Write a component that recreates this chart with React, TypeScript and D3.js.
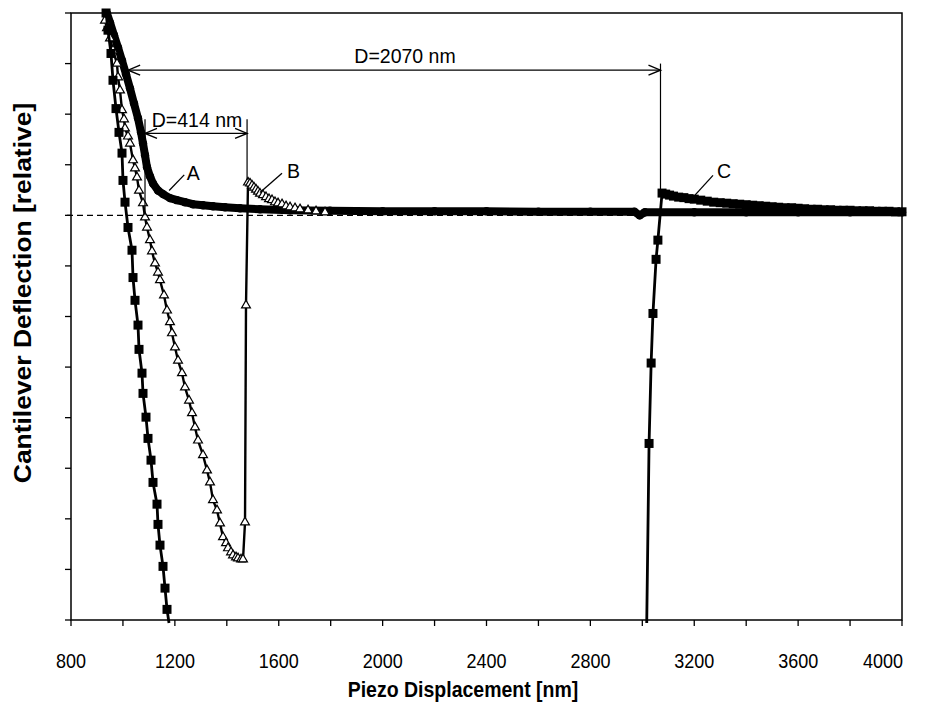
import React from "react";
import * as d3 from "d3";

// ---------- data ----------
const xTicks = [800, 1000, 1200, 1400, 1600, 1800, 2000, 2200, 2400, 2600, 2800, 3000, 3200, 3400, 3600, 3800, 4000];
const xTickLabels = [800, 1200, 1600, 2000, 2400, 2800, 3200, 3600, 4000];
const yTicks = [-8, -7, -6, -5, -4, -3, -2, -1, 0, 1, 2, 3, 4];

// Curve A (dense filled circles)
const curveA: [number, number][] = [
  [938.6, 3.99], [950.2, 3.81], [965.6, 3.56], [981, 3.32], [996.4, 3.06], [1011.8, 2.79],
  [1027.2, 2.51], [1042.6, 2.21], [1058, 1.92], [1069.6, 1.64], [1077.3, 1.42], [1085, 1.19],
  [1092.7, 0.95], [1104.2, 0.77], [1115.8, 0.63], [1135, 0.49], [1154.3, 0.42], [1181.2, 0.34],
  [1208.2, 0.3], [1239, 0.26], [1269.8, 0.22], [1308.3, 0.2], [1346.8, 0.18], [1393, 0.16],
  [1450.8, 0.14], [1527.8, 0.12], [1643.3, 0.1], [1797.4, 0.09], [2000, 0.08], [2200, 0.08],
  [2400, 0.08], [2600, 0.07], [2800, 0.07], [2970, 0.07], [2990, 0.0], [3010, 0.06],
  [3200, 0.06], [3400, 0.06], [3600, 0.06], [3800, 0.06], [4000, 0.06],
];

// Curve B (open triangles)
const curveB: [number, number][] = [
  [930.9, 3.85], [938.6, 3.7], [950.2, 3.5], [961.7, 3.26], [977.1, 3.0], [981.0, 2.73],
  [988.7, 2.47], [996.4, 2.08], [1004.1, 1.9], [1007.9, 1.72], [1019.5, 1.56], [1027.2, 1.42],
  [1038.8, 1.09], [1046.5, 0.93], [1054.2, 0.75], [1061.9, 0.49], [1077.3, 0.24], [1085.0, -0.04],
  [1092.7, -0.24], [1104.2, -0.49], [1111.9, -0.71], [1123.5, -0.95], [1135.0, -1.13], [1142.7, -1.28],
  [1158.1, -1.58], [1169.7, -1.88], [1181.2, -2.11], [1188.9, -2.33], [1200.5, -2.61], [1212.1, -2.87],
  [1227.5, -3.12], [1239.0, -3.4], [1254.4, -3.66], [1266.0, -3.91], [1277.5, -4.19], [1289.1, -4.45],
  [1308.3, -4.74], [1323.7, -5.04], [1335.3, -5.28], [1346.8, -5.63], [1362.2, -5.83], [1373.8, -6.09],
  [1385.4, -6.36], [1396.9, -6.48], [1404.6, -6.58], [1416.2, -6.66], [1423.9, -6.72], [1435.4, -6.76],
  [1443.1, -6.78], [1454.7, -6.8], [1462.4, -6.8], [1470.1, -6.07], [1473.9, -1.78], [1481.6, 0.65],
  [1489.3, 0.63], [1497.0, 0.59], [1504.7, 0.55], [1512.4, 0.51], [1520.1, 0.47], [1527.8, 0.43],
  [1539.4, 0.4], [1550.9, 0.36], [1562.5, 0.32], [1574.1, 0.3], [1585.6, 0.26], [1597.2, 0.24],
  [1612.6, 0.22], [1628.0, 0.18], [1643.4, 0.16], [1662.6, 0.14], [1681.9, 0.12], [1712.7, 0.1],
  [1743.5, 0.08], [1778.2, 0.06], [1900, 0.05], [2200, 0.04], [2500, 0.04], [2800, 0.04],
  [3100, 0.04], [3400, 0.04], [3700, 0.04], [4000, 0.04],
];

// Curve C (filled squares): contact part and retract part
const curveCContact: [number, number][] = [
  [935, 4.0], [942.5, 3.66], [954, 3.2], [961.7, 2.67], [973.3, 2.11], [984.8, 1.64], [996.4, 1.23],
  [1000.2, 0.69], [1008, 0.26], [1019.5, -0.24], [1034.9, -0.69], [1038.8, -1.23], [1046.5, -1.68],
  [1058, -2.17], [1061.9, -2.65], [1073.4, -3.12], [1077.3, -3.52], [1088.8, -3.99], [1096.5, -4.41],
  [1108.1, -4.84], [1115.8, -5.28], [1131.2, -5.71], [1135, -6.11], [1142.7, -6.52], [1154.3, -6.94],
  [1162, -7.37], [1169.7, -7.79], [1177.4, -8.06],
];
const curveCRetract: [number, number][] = [
  [3017, -8.06], [3026, -4.51], [3034, -2.92], [3041, -1.94], [3053, -0.87], [3060, -0.49],
  [3076, 0.44], [3090, 0.42], [3105, 0.4], [3120, 0.38], [3140, 0.36], [3160, 0.35], [3180, 0.33],
  [3200, 0.32], [3225, 0.3], [3250, 0.28], [3275, 0.26], [3300, 0.25], [3325, 0.24], [3350, 0.23],
  [3375, 0.22], [3400, 0.21], [3425, 0.2], [3450, 0.19], [3475, 0.18], [3500, 0.17], [3525, 0.16],
  [3550, 0.15], [3575, 0.15], [3600, 0.14], [3625, 0.13], [3650, 0.12], [3675, 0.12], [3700, 0.11],
  [3725, 0.11], [3750, 0.1], [3775, 0.1], [3800, 0.1], [3825, 0.09], [3850, 0.09], [3875, 0.09],
  [3900, 0.08], [3925, 0.08], [3950, 0.08], [3975, 0.07], [4000, 0.07],
];

// Annotations (data coordinates)
const dimLong = { x1: 1020, x2: 3070, y: 2.87, label: "D=2070 nm", topY: 3.0, bottomY: 0.5 };
const dimShort = { x1: 1085, x2: 1478, y: 1.62, label: "D=414 nm", topY: 1.9, bottomY: 0.7 };
const curveLabels = [
  { text: "A", from: [1178, 0.49], to: [1236, 0.8], at: [1246, 0.69] },
  { text: "B", from: [1527.8, 0.45], to: [1612.5, 0.83], at: [1631.8, 0.73] },
  { text: "C", from: [3202.9, 0.4], to: [3272.2, 0.79], at: [3287.6, 0.73] },
];

const xTitle = "Piezo Displacement [nm]";
const yTitle = "Cantilever Deflection [relative]";

// ---------- chart ----------
const W = 926;
const H = 711;
const FONT = "'Liberation Sans', Arial, Helvetica, sans-serif";
const STRETCH = 1.15;

const x = d3.scaleLinear().domain([800, 4000]).range([71, 902]);
const y = d3.scaleLinear().domain([-8, 4]).range([620, 13]);

const line = d3
  .line<[number, number]>()
  .x((d) => x(d[0]))
  .y((d) => y(d[1]));

const tri = d3.symbol(d3.symbolTriangle, 34)() as string;

function arrowHead(tipX: number, tipY: number, dir: number) {
  const len = 12;
  const spread = 5;
  return `M${tipX - dir * len},${tipY - spread}L${tipX},${tipY}L${tipX - dir * len},${tipY + spread}`;
}

function Dimension({ d, labelX, labelY }: { d: any; labelX: number; labelY: number }) {
  const x1 = x(d.x1);
  const x2 = x(d.x2);
  const yy = y(d.y);
  return (
    <g stroke="#000" fill="none" strokeWidth={1.4}>
      <line x1={x1} x2={x2} y1={yy} y2={yy} />
      <path d={arrowHead(x1, yy, -1)} />
      <path d={arrowHead(x2, yy, 1)} />
      <text
        x={labelX}
        y={labelY}
        stroke="none"
        fill="#000"
        fontFamily={FONT}
        fontSize={19.5}
        textAnchor="middle"
      >
        {d.label}
      </text>
    </g>
  );
}

export default function App() {
  return (
    <svg
      width={W}
      height={H}
      style={{ position: "absolute", left: 0, top: 0, background: "#fff" }}
    >
      <rect x={0} y={0} width={W} height={H} fill="#fff" />

      {/* zero dashed line */}
      <line
        x1={x(800) - 4}
        x2={x(4000)}
        y1={y(0)}
        y2={y(0)}
        stroke="#000"
        strokeWidth={1.3}
        strokeDasharray="6,4"
      />

      {/* curve A: dense band */}
      <path d={line(curveA) as string} fill="none" stroke="#000" strokeWidth={8} strokeLinejoin="round" strokeLinecap="round" />
      {curveA.map((p, i) => (
        <circle key={"a" + i} cx={x(p[0])} cy={y(p[1])} r={4.2} fill="#000" />
      ))}

      {/* curve B: open triangles */}
      <path d={line(curveB) as string} fill="none" stroke="#000" strokeWidth={2.4} strokeLinejoin="round" />
      {curveB
        .filter((p) => p[0] < 1800)
        .map((p, i) => (
          <path
            key={"b" + i}
            d={tri}
            transform={`translate(${x(p[0])},${y(p[1])})`}
            fill="#fff"
            stroke="#000"
            strokeWidth={1.2}
          />
        ))}

      {/* curve C: filled squares */}
      <path d={line(curveCContact) as string} fill="none" stroke="#000" strokeWidth={2.8} />
      <path d={line(curveCRetract) as string} fill="none" stroke="#000" strokeWidth={2.8} />
      {[...curveCContact, ...curveCRetract]
        .filter((p) => p[1] > -7.95)
        .map((p, i) => (
          <rect key={"c" + i} x={x(p[0]) - 4.5} y={y(p[1]) - 4.5} width={9} height={9} fill="#000" />
        ))}

      {/* axes frame */}
      <rect x={x(800)} y={y(4)} width={x(4000) - x(800)} height={y(-8) - y(4)} fill="none" stroke="#000" strokeWidth={1.5} />
      {yTicks.map((t) => (
        <line key={"yt" + t} x1={x(800) - 6} x2={x(800)} y1={y(t)} y2={y(t)} stroke="#000" strokeWidth={1.3} />
      ))}
      {xTicks.map((t) => (
        <line key={"xt" + t} x1={x(t)} x2={x(t)} y1={y(-8)} y2={y(-8) + 6} stroke="#000" strokeWidth={1.3} />
      ))}
      {xTickLabels.map((t) => (
        <text
          key={"xl" + t}
          transform={`translate(${t === 4000 ? x(t) + 1 : x(t)},668) scale(1,${STRETCH})`}
          textAnchor={t === 4000 ? "end" : "middle"}
          fontFamily={FONT}
          fontSize={18}
          fill="#000"
        >
          {t}
        </text>
      ))}

      {/* titles */}
      <text
        transform={`translate(463,697) scale(1,${STRETCH})`}
        textAnchor="middle"
        fontFamily={FONT}
        fontSize={19.5}
        fontWeight="bold"
        fill="#000"
      >
        {xTitle}
      </text>
      <text
        transform={`translate(31,293) scale(1,${STRETCH}) rotate(-90)`}
        textAnchor="middle"
        fontFamily={FONT}
        fontSize={23}
        fontWeight="bold"
        fill="#000"
      >
        {yTitle}
      </text>

      {/* dimension annotations */}
      <line x1={x(dimLong.x2)} x2={x(dimLong.x2)} y1={y(dimLong.topY)} y2={y(dimLong.bottomY)} stroke="#000" strokeWidth={1.2} />
      <Dimension d={dimLong} labelX={405} labelY={y(dimLong.y) - 7} />
      <line x1={x(dimShort.x1)} x2={x(dimShort.x1)} y1={y(dimShort.topY)} y2={y(0)} stroke="#000" strokeWidth={1.2} />
      <line x1={x(dimShort.x2)} x2={x(dimShort.x2)} y1={y(dimShort.topY)} y2={y(dimShort.bottomY)} stroke="#000" strokeWidth={1.2} />
      <Dimension d={dimShort} labelX={(x(dimShort.x1) + x(dimShort.x2)) / 2 + 1} labelY={y(dimShort.y) - 6} />

      {/* curve labels */}
      {curveLabels.map((c) => (
        <g key={c.text}>
          <line
            x1={x(c.from[0])}
            y1={y(c.from[1])}
            x2={x(c.to[0])}
            y2={y(c.to[1])}
            stroke="#000"
            strokeWidth={1.3}
          />
          <text x={x(c.at[0])} y={y(c.at[1])} fontFamily={FONT} fontSize={19.5} fill="#000">
            {c.text}
          </text>
        </g>
      ))}
    </svg>
  );
}
